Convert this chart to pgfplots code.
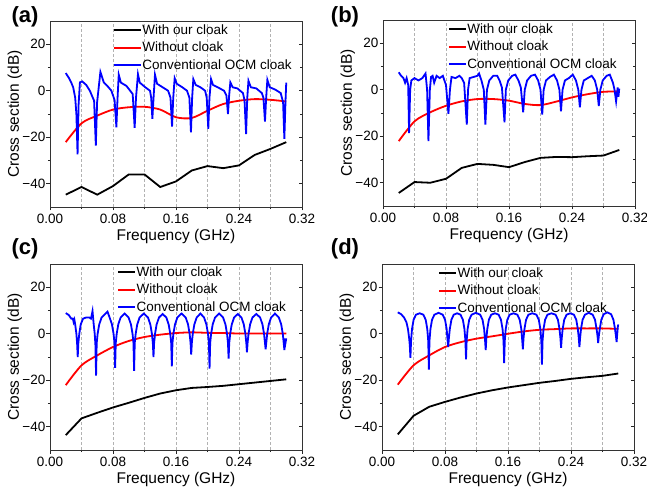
\documentclass[border=0pt]{standalone}
\usepackage{fontspec}
\setmainfont{Liberation Sans}
\usepackage{pgfplots}
\pgfplotsset{compat=1.18}
\pgfplotsset{
  panel/.style={
    width=252pt, height=186pt, scale only axis,
    xmin=0, xmax=0.32, ymin=-50, ymax=30,
    xtick={0,0.08,0.16,0.24,0.32}, xticklabels={0.00,0.08,0.16,0.24,0.32},
    minor x tick num=1,
    ytick={-40,-20,0,20}, yticklabels={−40,−20,0,20},
    minor y tick num=1,
    xmajorgrids, xminorgrids,
    major grid style={densely dashed, gray!60, line width=0.45pt},
    minor grid style={densely dashed, gray!60, line width=0.45pt},
    tick align=outside, tick pos=left,
    major tick length=3.5pt, minor tick length=2.2pt,
    tick style={black!85, line width=0.6pt},
    axis line style={black!80, line width=0.8pt},
    ticklabel style={font=\fontsize{13.5}{16}\selectfont},
    yticklabel style={inner sep=1pt},
    label style={font=\fontsize{15.5}{18}\selectfont},
    xlabel={Frequency (GHz)}, ylabel={Cross section (dB)},
    xlabel style={at={(axis description cs:0.5,-0.161)}, anchor=center},
    ylabel style={at={(axis description cs:-0.139,0.5)}, anchor=center},
    legend style={draw=none, fill=none, font=\fontsize{13.5}{16.2}\selectfont,
      anchor=north west, inner sep=0pt, row sep=5.3pt,
      nodes={inner sep=0.5pt}},
    legend cell align=left,
  },
  rightticks/.style={
    width=252pt, height=186pt, scale only axis,
    xmin=0, xmax=0.32, ymin=-50, ymax=30,
    axis x line=none, axis y line*=right,
    ytick={-40,-20,0,20}, yticklabels={}, minor y tick num=1,
    tick align=inside, major tick length=3.5pt, minor tick length=2.2pt,
    tick style={black!85, line width=0.6pt},
    axis line style={black!80, line width=0.8pt},
  },
}
\begin{document}
\begin{tikzpicture}
\useasboundingbox (0,0) rectangle (647pt,498pt);
% ---------------- (a)
\begin{axis}[panel, at={(50pt,291pt)}, anchor=south west,
  legend image post style={xscale=1.6},
  legend style={at={(0.248,0.985)}}]
\addplot[black, line width=1.8pt] coordinates {(0.02,-44.7)(0.04,-41.4)(0.06,-44.7)(0.08,-41)(0.10,-36)(0.12,-36)(0.14,-41.4)(0.16,-39)(0.18,-34.3)(0.20,-32.4)(0.22,-33.3)(0.24,-32.1)(0.26,-27.6)(0.28,-25)(0.30,-22.1)};
\addlegendentry{With our cloak}
\addplot[red, line width=1.8pt, smooth] coordinates {(0.02,-22.1)(0.04,-14)(0.06,-10.7)(0.08,-8.1)(0.10,-7.1)(0.12,-6.9)(0.14,-8.1)(0.16,-11.4)(0.18,-11.7)(0.20,-8.6)(0.22,-5.7)(0.24,-4.3)(0.26,-3.6)(0.28,-3.9)(0.30,-4.6)};
\addlegendentry{Without cloak}
\addplot[blue, line width=1.8pt] coordinates {(0.020,7.6)(0.024,5.5)(0.027,3.5)(0.0295,1.4)(0.032,-3)(0.0335,-10)(0.035,-27.4)(0.0363,-6)(0.038,3.6)(0.041,4)(0.046,2.5)(0.0506,0)(0.056,-4.3)(0.0582,-23.6)(0.0598,-5)(0.064,8.1)(0.0683,3.6)(0.073,2)(0.078,0)(0.082,-4)(0.0843,-15.7)(0.0858,-3)(0.0873,6.9)(0.090,3.5)(0.097,2.1)(0.105,-1.4)(0.1075,-16)(0.1092,-3)(0.1117,7.1)(0.114,3.5)(0.121,1.5)(0.127,0)(0.1285,-3)(0.130,-12.1)(0.1315,-3)(0.1333,6.9)(0.136,3)(0.143,1.5)(0.150,0)(0.153,-3)(0.155,-15.4)(0.1565,-3)(0.1583,5.4)(0.161,3)(0.168,1.5)(0.174,0)(0.177,-3)(0.179,-17.9)(0.1805,-3)(0.182,5)(0.185,2.5)(0.191,1.5)(0.197,0)(0.199,-3)(0.201,-16.4)(0.2025,-3)(0.2045,5)(0.207,2.5)(0.213,1.5)(0.221,0)(0.224,-2)(0.226,-10)(0.2275,-2)(0.229,3.6)(0.232,1.5)(0.238,1)(0.245,-1)(0.247,-4)(0.249,-18.6)(0.2505,-3)(0.252,4.3)(0.255,1.5)(0.262,1)(0.269,-1)(0.271,-3)(0.273,-13.3)(0.2745,-3)(0.276,4.7)(0.279,1.5)(0.286,0.5)(0.293,-1)(0.296,-5)(0.2976,-20.7)(0.299,-5)(0.300,3.5)};
\addlegendentry{Conventional OCM cloak}
\end{axis}
\begin{axis}[rightticks, at={(50pt,291pt)}, anchor=south west]
\addplot[draw=none] coordinates {(0.1,0)};
\end{axis}
% ---------------- (b)
\begin{axis}[panel, at={(383pt,292pt)}, anchor=south west,
  legend style={at={(0.257,0.985)}}]
\addplot[black, line width=1.8pt] coordinates {(0.02,-44.4)(0.04,-39.7)(0.06,-40)(0.08,-38.3)(0.10,-33.6)(0.12,-31.9)(0.14,-32.3)(0.16,-33.3)(0.18,-31.1)(0.20,-29.3)(0.22,-28.9)(0.24,-29)(0.26,-28.6)(0.28,-28.3)(0.30,-25.9)};
\addlegendentry{With our cloak}
\addplot[red, line width=1.8pt, smooth] coordinates {(0.02,-22.1)(0.04,-13.6)(0.06,-9.7)(0.08,-6.9)(0.10,-5)(0.12,-4)(0.14,-4)(0.16,-4.7)(0.18,-6.1)(0.20,-6.6)(0.22,-5.1)(0.24,-3.3)(0.26,-1.9)(0.28,-0.9)(0.30,-0.7)};
\addlegendentry{Without cloak}
\addplot[blue, line width=1.8pt] coordinates {(0.020,7.5)(0.023,6)(0.026,5)(0.028,3)(0.030,5)(0.032,2)(0.0331,-18.6)(0.0345,0)(0.036,4)(0.040,5)(0.045,4)(0.050,5)(0.054,7)(0.056,0)(0.0577,-22.1)(0.0595,0)(0.061,5.5)(0.063,6)(0.065,3)(0.068,6)(0.072,5)(0.076,6)(0.080,2)(0.0831,-10.4)(0.085,0)(0.087,5.5)(0.092,5)(0.097,6)(0.100,5)(0.103,3)(0.1064,-15)(0.108,0)(0.110,5)(0.115,5.5)(0.120,6)(0.122,7)(0.125,4)(0.128,0)(0.130,-15)(0.132,0)(0.135,4)(0.140,6)(0.145,6)(0.148,4)(0.151,1)(0.1543,-14)(0.156,0)(0.159,4)(0.164,6)(0.168,6.5)(0.172,4)(0.175,1)(0.178,-9.7)(0.180,0)(0.183,4)(0.188,6)(0.193,6.5)(0.197,4)(0.200,0)(0.2022,-10.7)(0.204,0)(0.207,4)(0.212,5.5)(0.217,6.5)(0.221,4)(0.224,0)(0.226,-9.3)(0.228,0)(0.231,4)(0.236,5)(0.241,6.5)(0.245,4)(0.248,0)(0.250,-7.6)(0.252,0)(0.255,4)(0.260,5)(0.265,6)(0.269,4)(0.272,0)(0.274,-7)(0.276,0)(0.279,4)(0.284,6)(0.288,6.5)(0.292,3)(0.294,0)(0.296,-5)(0.298,1)(0.299,-3)(0.300,0.5)};
\addlegendentry{Conventional OCM cloak}
\end{axis}
\begin{axis}[rightticks, at={(383pt,292pt)}, anchor=south west]
\addplot[draw=none] coordinates {(0.1,0)};
\end{axis}
% ---------------- (c)
\begin{axis}[panel, at={(50pt,48pt)}, anchor=south west,
  legend style={at={(0.266,0.99)}}]
\addplot[black, line width=1.8pt] coordinates {(0.02,-43.6)(0.04,-36.4)(0.06,-34)(0.08,-31.7)(0.10,-29.7)(0.12,-27.6)(0.14,-25.7)(0.16,-24.3)(0.18,-23.3)(0.20,-22.9)(0.22,-22.4)(0.24,-21.7)(0.26,-21)(0.28,-20.3)(0.30,-19.6)};
\addlegendentry{With our cloak}
\addplot[red, line width=1.8pt, smooth] coordinates {(0.02,-22.1)(0.04,-13.6)(0.06,-9.3)(0.08,-5.7)(0.10,-3.1)(0.12,-1.4)(0.14,-0.4)(0.16,0.3)(0.18,0.6)(0.20,0.4)(0.22,0.3)(0.24,0.1)(0.26,0.1)(0.28,0.1)(0.30,0.1)};
\addlegendentry{Without cloak}
\addplot[blue, line width=1.8pt] coordinates {(0.020,8.9)(0.024,8)(0.027,6.5)(0.029,6.5)(0.030,5)(0.031,6)(0.032,4)(0.0335,0)(0.0344,-4)(0.0352,-10)
(0.036,-4)(0.0372,0)(0.039,4)(0.042,6.5)(0.046,7)(0.050,7)(0.052,6.5)(0.053,8)(0.054,9.7)(0.0555,4)(0.0568,0)(0.0577,-5)(0.0585,-18)
(0.0593,-4)(0.0605,0)(0.0625,4)(0.0655,7)(0.073,9.5)(0.0757,7)(0.0787,4)(0.0807,0)(0.0819,-4)(0.0827,-14.7)
(0.0835,-4)(0.0847,0)(0.0867,4)(0.0897,7)(0.0948,8.7)(0.0998,7)(0.1028,4)(0.1048,0)(0.1060,-4)(0.1068,-16)
(0.1076,-4)(0.1088,0)(0.1108,4)(0.1138,7)(0.1191,8.7)(0.1244,7)(0.1274,4)(0.1294,0)(0.1306,-4)(0.1314,-10)
(0.1322,-4)(0.1334,0)(0.1354,4)(0.1384,7)(0.1430,8.5)(0.1477,7)(0.1507,4)(0.1527,0)(0.1539,-4)(0.1547,-14)
(0.1555,-4)(0.1567,0)(0.1587,4)(0.1617,7)(0.1670,8.7)(0.1723,7)(0.1753,4)(0.1773,0)(0.1785,-4)(0.1793,-9)
(0.1801,-4)(0.1813,0)(0.1833,4)(0.1863,7)(0.1910,8.7)(0.1956,7)(0.1986,4)(0.2006,0)(0.2018,-4)(0.2026,-15)
(0.2034,-4)(0.2046,0)(0.2066,4)(0.2096,7)(0.2147,8.7)(0.2198,7)(0.2228,4)(0.2248,0)(0.2260,-4)(0.2268,-10.7)
(0.2276,-4)(0.2288,0)(0.2308,4)(0.2338,7)(0.2385,8.5)(0.2431,7)(0.2461,4)(0.2481,0)(0.2493,-4)(0.2501,-8)
(0.2509,-4)(0.2521,0)(0.2541,4)(0.2571,7)(0.2620,8.5)(0.2668,7)(0.2698,4)(0.2718,0)(0.2730,-4)(0.2738,-6.7)
(0.2746,-4)(0.2758,0)(0.2778,4)(0.2808,7)(0.2857,8.7)(0.2906,7)(0.2936,4)(0.2956,0)(0.2968,-4)(0.2976,-7)
(0.2985,-2)(0.2990,-4)(0.3000,-2)};
\addlegendentry{Conventional OCM cloak}
\end{axis}
\begin{axis}[rightticks, at={(50pt,48pt)}, anchor=south west]
\addplot[draw=none] coordinates {(0.1,0)};
\end{axis}
% ---------------- (d)
\begin{axis}[panel, at={(382pt,48pt)}, anchor=south west,
  legend style={at={(0.222,0.985)}}]
\addplot[black, line width=1.8pt] coordinates {(0.02,-43.3)(0.04,-35.3)(0.06,-31.4)(0.08,-29.3)(0.10,-27.4)(0.12,-25.7)(0.14,-24.3)(0.16,-23.1)(0.18,-22.1)(0.20,-21.1)(0.22,-20.3)(0.24,-19.4)(0.26,-18.7)(0.28,-18.1)(0.30,-17.1)};
\addlegendentry{With our cloak}
\addplot[red, line width=1.8pt, smooth] coordinates {(0.02,-21.9)(0.04,-13.6)(0.06,-9.3)(0.08,-5.7)(0.10,-3.6)(0.12,-2.1)(0.14,-1.1)(0.16,0)(0.18,1)(0.20,1.7)(0.22,2)(0.24,2.3)(0.26,2.3)(0.28,2.3)(0.30,2.1)};
\addlegendentry{Without cloak}
\addplot[blue, line width=1.8pt] coordinates {(0.020,9.2)(0.024,8.5)(0.028,7)(0.031,5)(0.033,2)(0.0345,-2)(0.0353,-5)(0.0361,-10.4)
(0.0369,-3)(0.0381,2)(0.0401,6)(0.0431,8.2)(0.0478,8.8)(0.0525,8.2)(0.0555,6)(0.0575,2)(0.0587,-3)(0.0595,-15.4)
(0.0603,-3)(0.0615,2)(0.0635,6)(0.0665,8.2)(0.0718,9)(0.0771,8.2)(0.0801,6)(0.0821,2)(0.0833,-3)(0.0841,-5.7)
(0.0849,-2)(0.0861,2)(0.0881,6)(0.0911,8.2)(0.0954,8.8)(0.0997,8.2)(0.1027,6)(0.1047,2)(0.1059,-3)(0.1067,-11)
(0.1075,-3)(0.1087,2)(0.1107,6)(0.1137,8.2)(0.1192,9)(0.1247,8.2)(0.1277,6)(0.1297,2)(0.1309,-3)(0.1317,-7)
(0.1325,-2)(0.1337,2)(0.1357,6)(0.1387,8.2)(0.1434,8.8)(0.1481,8.2)(0.1511,6)(0.1531,2)(0.1543,-3)(0.1551,-12.6)
(0.1559,-3)(0.1571,2)(0.1591,6)(0.1621,8.2)(0.1670,8.8)(0.1719,8.2)(0.1749,6)(0.1769,2)(0.1781,-3)(0.1789,-6.7)
(0.1797,-2)(0.1809,2)(0.1829,6)(0.1859,8.2)(0.1910,8.8)(0.1961,8.2)(0.1991,6)(0.2011,2)(0.2023,-3)(0.2031,-13.3)
(0.2039,-3)(0.2051,2)(0.2071,6)(0.2101,8.2)(0.2152,8.8)(0.2204,8.2)(0.2234,6)(0.2254,2)(0.2266,-2)(0.2274,-6)
(0.2282,-2)(0.2294,2)(0.2314,6)(0.2344,8.2)(0.2390,8.8)(0.2437,8.2)(0.2467,6)(0.2487,2)(0.2499,-2)(0.2507,-5.7)
(0.2515,-2)(0.2527,2)(0.2547,6)(0.2577,8.2)(0.2626,9)(0.2675,8.2)(0.2705,6)(0.2725,2)(0.2737,-1)(0.2745,-4)
(0.2753,-1)(0.2765,2)(0.2785,6)(0.2815,8.4)(0.2862,9.2)(0.2909,8.4)(0.2939,6)(0.2959,2)(0.2971,-1)(0.2979,-3.6)
(0.2987,0)(0.2995,3)(0.3000,4)};
\addlegendentry{Conventional OCM cloak}
\end{axis}
\begin{axis}[rightticks, at={(382pt,48pt)}, anchor=south west]
\addplot[draw=none] coordinates {(0.1,0)};
\end{axis}
% panel labels
\node[font=\fontsize{22}{24}\bfseries\selectfont, anchor=center] at (25pt,481pt) {(a)};
\node[font=\fontsize{22}{24}\bfseries\selectfont, anchor=center] at (345pt,481pt) {(b)};
\node[font=\fontsize{22}{24}\bfseries\selectfont, anchor=center] at (25pt,249pt) {(c)};
\node[font=\fontsize{22}{24}\bfseries\selectfont, anchor=center] at (345pt,249pt) {(d)};
\end{tikzpicture}
\end{document}
